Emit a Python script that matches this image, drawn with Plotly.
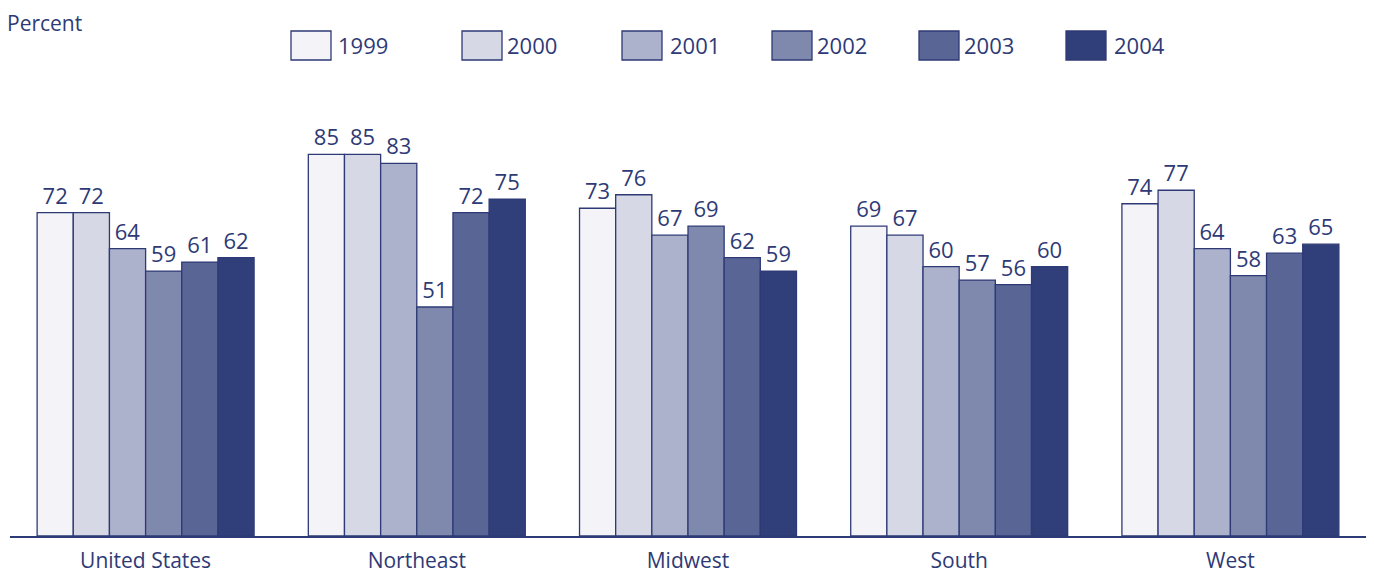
import plotly.graph_objects as go

categories = ["United States", "Northeast", "Midwest", "South", "West"]
years = ["1999", "2000", "2001", "2002", "2003", "2004"]
v1999 = [72, 85, 73, 69, 74]
v2000 = [72, 85, 76, 67, 77]
v2001 = [64, 83, 67, 60, 64]
v2002 = [59, 51, 69, 57, 58]
v2003 = [61, 72, 62, 56, 63]
v2004 = [62, 75, 59, 60, 65]
series = [v1999, v2000, v2001, v2002, v2003, v2004]
colors = ["#f3f3f8", "#d6d8e5", "#adb2cc", "#7f89ad", "#586595", "#303f7a"]
navy = "#2e3a76"
FONT = "Open Sans"

# page has an 8px body margin; work in page pixels and convert
OFF = 8
W, H = 1358, 565
ML, MR, MT, MB = 2, 0, 79, 37

fig = go.Figure()
for y, vals, c in zip(years, series, colors):
    fig.add_trace(go.Bar(
        x=categories, y=vals, name=y,
        marker=dict(color=c, line=dict(color=navy, width=1.3)),
        text=[str(v) for v in vals], textposition="outside",
        textfont=dict(family=FONT, size=22, color=navy),
        cliponaxis=False, showlegend=False,
    ))

pw = W - ML - MR
ph = H - MT - MB
def px(x):
    return (x - OFF - ML) / pw
def py(y):
    return (H - MB - (y - OFF)) / ph

box_x = [291, 462, 622, 772, 919, 1066]
lab_x = [338, 507, 670, 817, 964, 1114]
shapes = []
annotations = []
for bx, lx, y, c in zip(box_x, lab_x, years, colors):
    shapes.append(dict(type="rect", xref="paper", yref="paper",
                       x0=px(bx), x1=px(bx + 40), y0=py(60), y1=py(31),
                       fillcolor=c, line=dict(color=navy, width=1.3)))
    annotations.append(dict(xref="paper", yref="paper", x=px(lx - 2), y=py(45),
                            text=y, showarrow=False, xanchor="left", yanchor="middle",
                            font=dict(family=FONT, size=22, color=navy)))
annotations.append(dict(xref="paper", yref="paper", x=px(6), y=py(8),
                        text="Percent", showarrow=False, xanchor="left", yanchor="top",
                        borderpad=0,
                        font=dict(family=FONT, size=21, color=navy)))

fig.update_layout(
    width=W, height=H,
    margin=dict(l=ML, r=MR, t=MT, b=MB, autoexpand=False),
    paper_bgcolor="white", plot_bgcolor="white",
    barmode="group", bargap=0.2, bargroupgap=0,
    shapes=shapes, annotations=annotations,
    xaxis=dict(showline=True, linecolor=navy, linewidth=1.5, ticks="",
               showgrid=False, tickfont=dict(family=FONT, size=21, color=navy),
               ticklabelstandoff=5, range=[-0.5, 4.5], automargin=False),
    yaxis=dict(range=[0, 100], visible=False, showgrid=False, automargin=False),
)

fig.write_html("out.html")
